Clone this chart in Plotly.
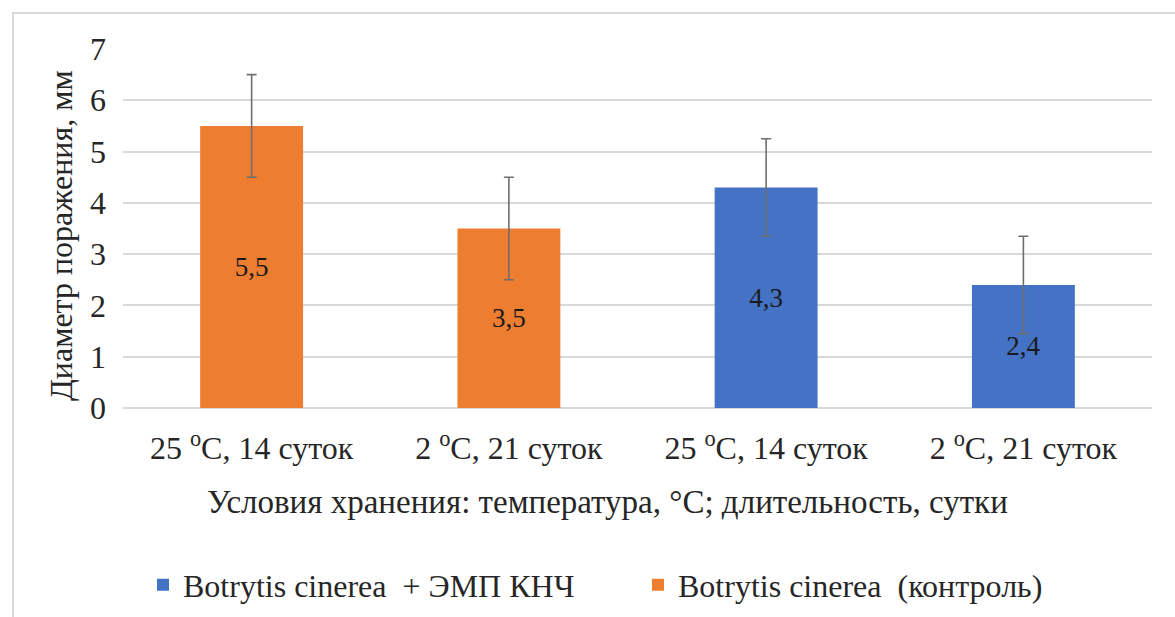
import plotly.graph_objects as go

categories = ["25 <sup>o</sup>C, 14 суток", "2 <sup>o</sup>C, 21 суток",
              "25 <sup>o</sup>C, 14 суток", "2 <sup>o</sup>C, 21 суток"]
pos_control = [0, 1]
pos_emp = [2, 3]
control_vals = [5.5, 3.5]
control_err = [1.0, 1.0]
emp_vals = [4.3, 2.4]
emp_err = [0.95, 0.95]
name_emp = "Botrytis cinerea  + ЭМП КНЧ"
name_control = "Botrytis cinerea  (контроль)"
x_title = "Условия хранения: температура, °C; длительность, сутки"
y_title = "Диаметр поражения, мм"

FONT = "Liberation Serif"
TXT = "#262626"

def fmt(vals):
    return [str(v).replace(".", ",") for v in vals]

fig = go.Figure()
fig.add_trace(go.Bar(
    x=pos_emp, y=emp_vals, name=name_emp, width=0.4,
    marker=dict(color="#4472C4", line=dict(width=0)),
    text=fmt(emp_vals), textposition="inside", insidetextanchor="middle",
    textfont=dict(family=FONT, size=27, color="#1a1a1a"),
    error_y=dict(type="data", array=emp_err, color="#6f6f6f", thickness=1.6, width=5),
))
fig.add_trace(go.Bar(
    x=pos_control, y=control_vals, name=name_control, width=0.4,
    marker=dict(color="#ED7D31", line=dict(width=0)),
    text=fmt(control_vals), textposition="inside", insidetextanchor="middle",
    textfont=dict(family=FONT, size=27, color="#1a1a1a"),
    error_y=dict(type="data", array=control_err, color="#6f6f6f", thickness=1.6, width=5),
))

L, R, T, B = 123, 23, 49, 209
W, H = 1175, 617
pw, ph = W - L - R, H - T - B

def px_x(p):
    return (p - L) / pw

def px_y(p):
    return (T + ph - p) / ph

fig.update_layout(
    width=W, height=H,
    margin=dict(l=L, r=R, t=T, b=B, autoexpand=False),
    paper_bgcolor="white", plot_bgcolor="white",
    barmode="overlay",
    font=dict(family=FONT, color=TXT),
    showlegend=True,
    legend=dict(orientation="h", x=px_x(143), xanchor="left", y=px_y(585),
                yanchor="middle", font=dict(size=32, family=FONT, color=TXT),
                traceorder="normal", bgcolor="rgba(0,0,0,0)", entrywidth=450),
    xaxis=dict(
        tickmode="array", tickvals=[0, 1, 2, 3], ticktext=categories,
        range=[-0.5, 3.5], showgrid=False, zeroline=False, showline=False,
        automargin=False,
        tickfont=dict(size=32, family=FONT, color=TXT), ticklabelstandoff=18,
    ),
    yaxis=dict(
        range=[0, 7], dtick=1, showgrid=True, gridcolor="#d9d9d9", gridwidth=1.5,
        zeroline=True, zerolinecolor="#d9d9d9", zerolinewidth=1.5, showline=False,
        automargin=False,
        tickfont=dict(size=32, family=FONT, color=TXT), ticklabelstandoff=16,
    ),
    annotations=[
        dict(text=x_title, xref="paper", yref="paper", x=px_x(607), y=px_y(502),
             xanchor="center", yanchor="middle", showarrow=False,
             font=dict(size=33, family=FONT, color=TXT)),
        dict(text=y_title, xref="paper", yref="paper", x=px_x(61), y=px_y(236),
             xanchor="center", yanchor="middle", showarrow=False, textangle=-90,
             font=dict(size=32, family=FONT, color=TXT)),
    ],
    shapes=[dict(type="rect", xref="paper", yref="paper",
                 x0=px_x(13), x1=px_x(W + 5),
                 y0=px_y(H + 5), y1=px_y(13),
                 line=dict(color="#d9d9d9", width=2), fillcolor="rgba(0,0,0,0)", layer="below")],
)

fig.write_html("out.html", config={"displayModeBar": False},
               post_script="document.body.style.margin='0';document.body.style.overflow='hidden';")
